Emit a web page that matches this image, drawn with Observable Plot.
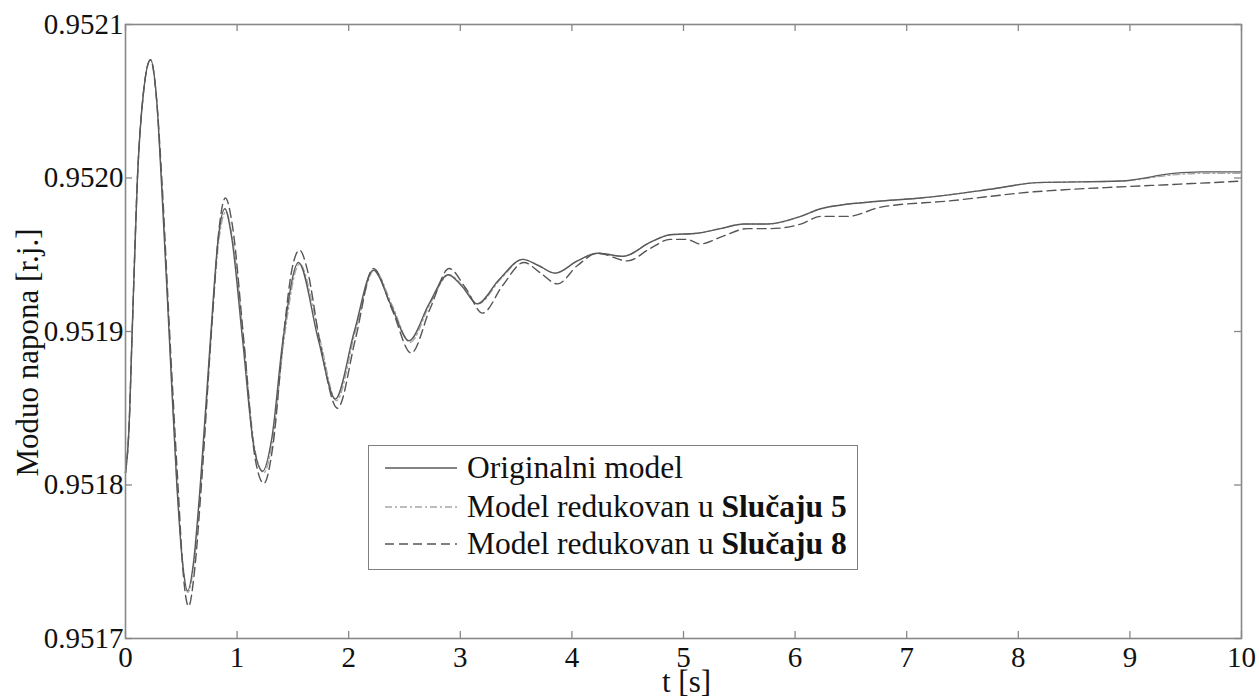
<!DOCTYPE html>
<html>
<head>
<meta charset="utf-8">
<script src="https://cdn.jsdelivr.net/npm/d3@7"></script>
<script src="https://cdn.jsdelivr.net/npm/@observablehq/plot@0.6"></script>
<style>
  html, body { margin: 0; padding: 0; background: #fff; }
  #wrap { position: relative; width: 1259px; height: 699px; font-family: "Liberation Serif", "Times New Roman", serif; }
  #legend { position: absolute; left: 368px; top: 445px; width: 490px; height: 125px; border: 1.5px solid #808080; background: #fff; box-sizing: border-box; }
  .row { position: absolute; left: 0; height: 36px; display: flex; align-items: center; font-size: 31.5px; color: #111; white-space: nowrap; }
  .row svg { margin-left: 16px; margin-right: 10px; }
</style>
</head>
<body>
<div id="wrap"></div>
<script>
const xTicks = [0, 1, 2, 3, 4, 5, 6, 7, 8, 9, 10];
const yTicks = [0.9517, 0.9518, 0.9519, 0.9520, 0.9521];
const xLabel = "t [s]";
const yLabel = "Moduo napona [r.j.]";
const seriesNames = ["Originalni model", "Model redukovan u Slučaju 5", "Model redukovan u Slučaju 8"];

// Originalni model
const tOrig = [0, 0.03, 0.06, 0.107, 0.16, 0.224, 0.28, 0.32, 0.39, 0.46, 0.51, 0.557, 0.61, 0.67, 0.76, 0.83, 0.89, 0.95, 1.05, 1.15, 1.23, 1.31, 1.41, 1.55, 1.73, 1.88, 2.05, 2.22, 2.38, 2.54, 2.72, 2.89, 3.02, 3.15, 3.35, 3.56, 3.70, 3.85, 4.05, 4.23, 4.46, 4.70, 4.88, 5.12, 5.33, 5.54, 5.75, 6.05, 6.23, 6.77, 7.13, 7.78, 8.17, 8.92, 9.39, 9.63, 10];
const vOrig = [0.951808, 0.951835, 0.951900, 0.952000, 0.952055, 0.952077, 0.952050, 0.952000, 0.951900, 0.951800, 0.951750, 0.951731, 0.951750, 0.951800, 0.951894, 0.951960, 0.951980, 0.951962, 0.951894, 0.951825, 0.951809, 0.951830, 0.951894, 0.951945, 0.951894, 0.951856, 0.951900, 0.951940, 0.951917, 0.951894, 0.951918, 0.951937, 0.951929, 0.951918, 0.951934, 0.951947, 0.951943, 0.951938, 0.951946, 0.951951, 0.951949, 0.951958, 0.951963, 0.951964, 0.951967, 0.951970, 0.951970, 0.951975, 0.951980, 0.951985, 0.951987, 0.951993, 0.951997, 0.951998, 0.952003, 0.952004, 0.952004];

// Model redukovan u Slučaju 5
const tCase5 = [0, 0.03, 0.06, 0.107, 0.16, 0.225, 0.28, 0.322, 0.392, 0.462, 0.512, 0.56, 0.615, 0.675, 0.765, 0.835, 0.90, 0.96, 1.06, 1.16, 1.24, 1.32, 1.42, 1.56, 1.745, 1.89, 2.06, 2.23, 2.39, 2.55, 2.73, 2.90, 3.03, 3.16, 3.36, 3.56, 3.70, 3.85, 4.05, 4.23, 4.46, 4.70, 4.88, 5.12, 5.33, 5.54, 5.75, 6.05, 6.23, 6.77, 7.13, 7.78, 8.17, 8.92, 9.39, 9.63, 10];
const vCase5 = [0.951808, 0.951835, 0.951900, 0.952000, 0.952055, 0.952077, 0.952050, 0.952000, 0.951900, 0.951800, 0.951750, 0.951730, 0.951750, 0.951800, 0.951894, 0.951958, 0.951978, 0.951960, 0.951894, 0.951823, 0.951808, 0.951830, 0.951894, 0.951944, 0.951894, 0.951855, 0.951900, 0.951940, 0.951917, 0.951893, 0.951918, 0.951937, 0.951929, 0.951918, 0.951934, 0.951947, 0.951943, 0.951938, 0.951946, 0.951951, 0.951949, 0.951958, 0.951963, 0.951964, 0.951967, 0.951970, 0.951970, 0.951975, 0.951980, 0.951985, 0.951987, 0.951993, 0.951997, 0.951998, 0.952002, 0.952003, 0.952003];

// Model redukovan u Slučaju 8
const tCase8 = [0, 0.03, 0.06, 0.107, 0.16, 0.224, 0.28, 0.325, 0.395, 0.47, 0.52, 0.565, 0.62, 0.68, 0.77, 0.84, 0.895, 0.96, 1.06, 1.16, 1.24, 1.32, 1.42, 1.49, 1.56, 1.63, 1.74, 1.90, 2.06, 2.22, 2.39, 2.56, 2.73, 2.90, 3.05, 3.20, 3.38, 3.57, 3.72, 3.87, 4.05, 4.23, 4.50, 4.70, 4.88, 5.03, 5.15, 5.35, 5.57, 5.78, 6.05, 6.23, 6.47, 6.77, 7.37, 8.14, 8.85, 9.45, 10];
const vCase8 = [0.951808, 0.951835, 0.951900, 0.952000, 0.952055, 0.952077, 0.952050, 0.952000, 0.951900, 0.951800, 0.951740, 0.951721, 0.951745, 0.951800, 0.951900, 0.951968, 0.951987, 0.951968, 0.951894, 0.951818, 0.951801, 0.951825, 0.951900, 0.951940, 0.951953, 0.951940, 0.951894, 0.951850, 0.951895, 0.951941, 0.951914, 0.951886, 0.951915, 0.951941, 0.951928, 0.951912, 0.951930, 0.951945, 0.951938, 0.951931, 0.951943, 0.951951, 0.951946, 0.951954, 0.951960, 0.951960, 0.951957, 0.951962, 0.951967, 0.951967, 0.951970, 0.951975, 0.951975, 0.951981, 0.951985, 0.951991, 0.951994, 0.951996, 0.951998];

const rows = (ts, vs) => ts.map((t, i) => ({t, v: vs[i]}));
const dOrig = rows(tOrig, vOrig);
const dCase5 = rows(tCase5, vCase5);
const dCase8 = rows(tCase8, vCase8);

const styles = [
  {stroke: "#5a5a5a", strokeWidth: 1.4, dash: null},
  {stroke: "#a8a8a8", strokeWidth: 1.3, dash: "7,3,2,3"},
  {stroke: "#555555", strokeWidth: 1.4, dash: "9,5"}
];

const FONT = "'Liberation Serif', 'Times New Roman', serif";
const W = 1259, H = 699, mL = 125, mR = 18, mT = 24, mB = 61;
const innerW = W - mL - mR, innerH = H - mT - mB, TICK = 7;

const plot = Plot.plot({
  width: W,
  height: H,
  marginLeft: mL,
  marginRight: mR,
  marginTop: mT,
  marginBottom: mB,
  x: {domain: [0, 10], axis: null},
  y: {domain: [0.9517, 0.9521], axis: null},
  style: {fontFamily: FONT, fontSize: "29px", color: "#111", background: "#fff", overflow: "visible"},
  marks: [
    Plot.line(dCase5, {x: "t", y: "v", curve: "monotone-x", stroke: styles[1].stroke, strokeWidth: styles[1].strokeWidth, strokeDasharray: styles[1].dash}),
    Plot.line(dCase8, {x: "t", y: "v", curve: "monotone-x", stroke: styles[2].stroke, strokeWidth: styles[2].strokeWidth, strokeDasharray: styles[2].dash}),
    Plot.line(dOrig, {x: "t", y: "v", curve: "monotone-x", stroke: styles[0].stroke, strokeWidth: styles[0].strokeWidth}),
    // inward ticks on all four sides
    Plot.tickX(xTicks, {x: d => d, insetTop: innerH - TICK, stroke: "#888", strokeWidth: 1.3}),
    Plot.tickX(xTicks, {x: d => d, insetBottom: innerH - TICK, stroke: "#888", strokeWidth: 1.3}),
    Plot.tickY(yTicks, {y: d => d, insetRight: innerW - TICK, stroke: "#888", strokeWidth: 1.3}),
    Plot.tickY(yTicks, {y: d => d, insetLeft: innerW - TICK, stroke: "#888", strokeWidth: 1.3}),
    Plot.frame({stroke: "#888", strokeWidth: 1.6}),
    Plot.axisX(xTicks, {anchor: "bottom", tickSize: 0, tickPadding: 8, tickFormat: d => String(d), label: null, fill: "#111"}),
    Plot.axisY(yTicks, {anchor: "left", tickSize: 0, tickPadding: 2, tickFormat: d => d3.format(".4f")(d), label: null, fill: "#111"}),
    Plot.text([xLabel], {frameAnchor: "bottom", text: d => d, textAnchor: "middle", dx: 3, dy: 53, fontSize: 31, fill: "#111"}),
    Plot.text([yLabel], {frameAnchor: "left", text: d => d, textAnchor: "middle", rotate: -90, dx: -97, dy: 21, fontSize: 31, fill: "#111"})
  ]
});

const wrap = document.getElementById("wrap");
wrap.appendChild(plot);

// legend (inside the plot area, as in the reference)
const legend = document.createElement("div");
legend.id = "legend";
const tops = [4, 43, 80];
seriesNames.forEach((name, i) => {
  const row = document.createElement("div");
  row.className = "row";
  row.style.top = tops[i] + "px";
  const s = styles[i];
  row.innerHTML = `<svg width="72" height="10"><line x1="0" y1="5" x2="72" y2="5" stroke="${s.stroke}" stroke-width="${s.strokeWidth}" ${s.dash ? `stroke-dasharray="${s.dash}"` : ""}/></svg>`;
  const span = document.createElement("span");
  const m = name.match(/^(.*?)(Slučaju \d)$/);
  if (m) {
    span.append(m[1]);
    const b = document.createElement("b");
    b.textContent = m[2];
    span.append(b);
  } else span.textContent = name;
  row.appendChild(span);
  legend.appendChild(row);
});
wrap.appendChild(legend);
</script>
</body>
</html>
